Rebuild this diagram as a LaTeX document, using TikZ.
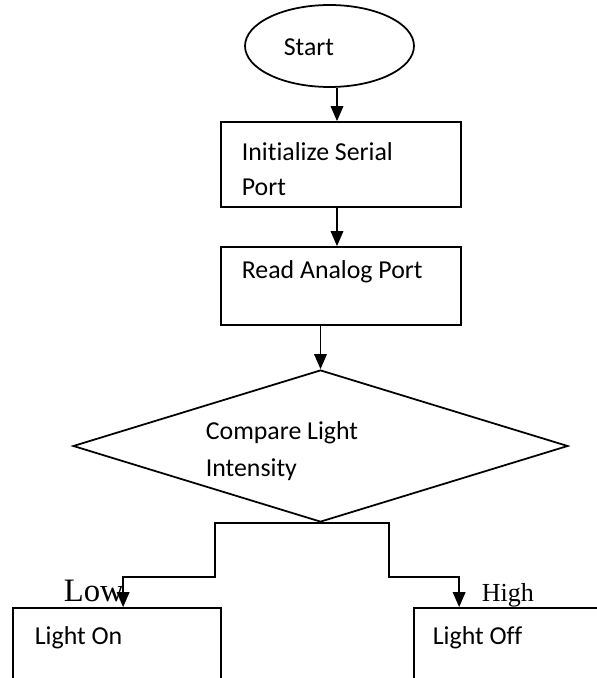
\documentclass[tikz,border=0pt]{standalone}
\usepackage{fontspec}
\setmainfont[Ligatures=NoCommon]{Carlito}
\newfontfamily\timesfont{Liberation Serif}
\usetikzlibrary{shapes.geometric,arrows.meta}

\tikzset{
  box/.style={draw, rectangle, inner sep=0pt},
  txt/.style={anchor=west, inner sep=0pt, align=left, font=\fontsize{14.7}{19.9}\selectfont},
  arr/.style={-{Triangle[length=0.3cm,width=0.25cm]}},
}

\begin{document}
\begin{tikzpicture}[x=0.02cm, y=-0.02cm, line width=1pt]
						\useasboundingbox (0,0) rectangle (597,678);
						\clip (0,0) rectangle (597,678);
						
						\node[draw, ellipse, inner sep=0pt, minimum width=3.38cm, minimum height=1.64cm] (start) at (329.5,46) {};
						\node[box, minimum width=4.8cm, minimum height=1.7cm] (b1) at (341,164.5) {};
						\node[box, minimum width=4.8cm, minimum height=1.56cm] (b2) at (341,286) {};
						\node[draw, diamond, inner sep=0pt, minimum width=9.9cm, minimum height=3.04cm] (dec) at (320.5,446) {};
						\node[box, minimum width=4.16cm, minimum height=1.84cm] (on) at (117,654) {};
						\node[box, minimum width=4.52cm, minimum height=1.84cm] (off) at (527,654) {};
						
						\node[txt, anchor=center] (tstart) at (309,47) {Start};
						\node[txt] (tb1) at (241,169.5) {Initialize Serial\\Port};
						\node[txt] (tb2) at (241,272) {Read Analog Port};
						\node[txt, font=\fontsize{14.7}{21}\selectfont] (tdec) at (205,451.5) {Compare Light\\Intensity};
						\node[txt] (ton) at (34,638) {Light On};
						\node[txt] (toff) at (432,638) {Light Off};
						\node[anchor=base west, inner sep=0pt, font=\timesfont\fontsize{18.6}{20}\selectfont] (low) at (63,601) {Low};
						\node[anchor=base west, inner sep=0pt, font=\timesfont\fontsize{14.8}{16}\selectfont] (high) at (481,601) {High};
						
						\coordinate (lstep) at (215,577);
						\coordinate (rstep) at (389,577);
						
						\draw[arr] ([xshift=0.15cm]start.south) -- ([xshift=-0.08cm]b1.north);
						\draw[arr] ([xshift=-0.08cm]b1.south) -- ([xshift=-0.08cm]b2.north);
						\draw[arr] (b2.south -| dec.north) -- (dec.north);
						\draw[arr] (dec.south) -| (lstep) -| ([xshift=2.22cm]on.north west);
						\draw[arr] (dec.south) -| (rstep) -| ([xshift=0.92cm]off.north west);
					\end{tikzpicture}
\end{document}
